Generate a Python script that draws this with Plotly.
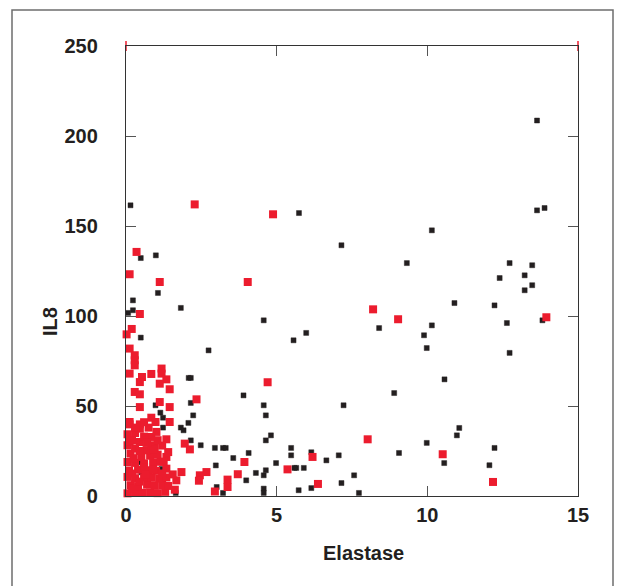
import plotly.graph_objects as go

# ---- data ----
black_x = [13.64, 13.64, 13.89, 10.15, 5.74, 7.15, 9.32, 12.73, 13.48, 13.23, 12.40, 13.48, 13.23,
           10.90, 12.23, 4.57, 13.82, 12.64, 10.15, 8.40, 5.98, 5.56, 9.89, 9.98, 12.73, 10.57,
           8.90, 11.06, 10.98, 9.98, 9.06, 10.56, 12.23, 12.06, 3.90, 4.57, 4.64, 7.22, 4.81, 4.64,
           2.95, 3.22, 3.31, 4.07, 3.56, 5.48, 5.48, 6.15, 4.98, 5.59, 5.65, 5.90, 6.65, 7.06, 2.98,
           4.64, 4.57, 4.31, 3.99, 7.15, 7.57, 6.15, 5.73, 4.57, 4.57, 3.22, 7.73, 3.01, 1.65,
           0.15, 0.49, 0.99, 1.06, 0.23, 1.82, 0.23, 0.07, 0.49, 2.74, 2.08, 2.15, 0.98, 2.15,
           2.23, 1.14, 1.23, 1.23, 1.82, 1.91, 2.07, 2.15, 2.48, 0.46, 1.18, 0.51]
black_y = [208.6, 158.7, 160.0, 147.6, 157.2, 139.3, 129.4, 129.4, 128.2, 122.6, 121.1, 117.1, 114.3,
           107.2, 105.9, 97.6, 97.6, 96.1, 94.8, 93.3, 90.6, 86.5, 89.3, 82.2, 79.5, 64.8,
           57.2, 37.8, 33.7, 29.5, 23.9, 18.3, 26.7, 17.1, 55.9, 50.4, 44.8, 50.4, 33.7, 30.9,
           26.7, 26.7, 26.7, 23.9, 21.1, 26.7, 22.6, 24.3, 18.3, 15.6, 15.6, 15.6, 19.8, 22.6, 17.0,
           14.3, 11.5, 12.8, 8.7, 7.2, 11.5, 4.4, 3.2, 4.1, 1.7, 1.7, 1.7, 5.0, 1.7,
           161.5, 132.2, 133.7, 112.8, 108.7, 104.5, 103.2, 101.7, 88.0, 80.9, 65.6, 65.6, 50.4, 51.7,
           44.8, 46.3, 43.5, 38.0, 38.0, 36.5, 40.6, 30.9, 28.2, 18.7, 15.0, 13.2]

red_x = [2.28, 0.35, 0.12, 1.12, 4.04, 4.88, 8.20, 9.03, 13.95, 0.46, 0.19, 0.02, 4.70, 8.02,
         10.51, 12.18, 3.93, 6.19, 5.36, 3.71, 3.37, 3.37, 6.37, 2.95, 2.67, 2.45, 2.42, 2.34,
         1.95, 2.12, 1.84, 1.67, 0.12, 0.29, 0.29, 0.29, 0.12, 0.53, 0.84, 1.18, 1.18, 1.34,
         1.12, 0.46, 1.45, 0.29, 0.46, 1.12, 0.46, 1.45, 0.84,
         0.05, 0.30, 0.55, 0.80, 1.05, 1.30,
         0.15, 0.40, 0.70, 0.95, 1.20, 1.40,
         0.05, 0.30, 0.60, 0.85, 1.10, 1.34,
         0.10, 0.40, 0.73, 1.00, 1.34,
         0.05, 0.30, 0.60, 0.90, 1.15,
         0.15, 0.51, 0.80, 1.05, 1.34,
         0.05, 0.30, 0.68, 0.95, 1.40,
         0.12, 0.46, 0.84, 0.05, 0.30, 0.84, 1.01, 1.34,
         0.12, 0.46, 0.12, 0.46, 0.98, 1.45, 1.62, 1.55,
         0.20, 0.45, 0.20, 0.60, 0.25, 0.45, 0.20, 0.60, 0.30, 0.75,
         0.65, 0.90, 1.20, 1.25, 0.90, 1.20, 0.70, 1.05, 0.60]
red_y = [162.0, 135.6, 123.2, 118.9, 118.9, 156.5, 103.7, 98.2, 99.3, 101.1, 92.8, 89.8, 63.2, 31.5,
         23.2, 7.8, 18.9, 21.7, 14.8, 12.1, 9.1, 5.0, 6.7, 2.5, 13.3, 11.5, 8.5, 53.7,
         29.1, 25.9, 13.3, 8.7, 81.9, 78.2, 75.4, 72.6, 68.0, 66.1, 67.8, 70.8, 68.0, 64.8,
         62.4, 63.3, 59.3, 57.8, 56.5, 52.2, 49.4, 49.4, 43.5,
         1.5, 2.2, 1.8, 2.0, 1.6, 2.3,
         6.0, 5.5, 6.3, 5.8, 6.1, 5.6,
         10.6, 9.9, 10.4, 10.1, 9.7, 10.3,
         14.2, 14.6, 14.3, 14.0, 15.2,
         18.9, 18.4, 18.1, 18.7, 19.0,
         23.6, 21.7, 22.4, 23.0, 21.7,
         28.2, 26.4, 25.4, 27.0, 24.4,
         30.5, 30.0, 32.8, 34.3, 35.0, 28.2, 35.6, 31.5,
         39.8, 37.4, 41.1, 39.8, 41.1, 41.1, 3.5, 12.0,
         4.0, 8.0, 12.5, 16.0, 21.0, 25.0, 31.0, 33.0, 38.0, 38.0,
         12.0, 14.5, 12.5, 19.0, 26.0, 28.0, 29.5, 31.0, 41.0]

corner_x = [0, 15]
corner_y = [250, 250]

x_ticks = [0, 5, 10, 15]
y_ticks = [0, 50, 100, 150, 200, 250]

RED = '#ec1c2e'
BLK = '#231f20'
FONT = 'Liberation Sans, Arial, sans-serif'

fig = go.Figure()
fig.add_trace(go.Scatter(x=black_x, y=black_y, mode='markers', cliponaxis=False,
                         marker=dict(symbol='square', size=5, color=BLK,
                                     line=dict(width=1, color='rgba(35,31,32,0.45)')),
                         showlegend=False, hoverinfo='skip'))
fig.add_trace(go.Scatter(x=red_x, y=red_y, mode='markers', cliponaxis=False,
                         marker=dict(symbol='square', size=8, color=RED, line=dict(width=0)),
                         showlegend=False, hoverinfo='skip'))
fig.add_trace(go.Scatter(x=corner_x, y=corner_y, mode='markers', cliponaxis=False,
                         marker=dict(symbol='line-ns', size=7, line=dict(width=1.5, color=RED)),
                         showlegend=False, hoverinfo='skip'))

axis_common = dict(showline=True, linecolor='#333333', linewidth=1.3, mirror='ticks',
                   ticks='inside', ticklen=10, tickwidth=1.3, tickcolor='#555555',
                   showgrid=False, zeroline=False,
                   tickfont=dict(family=FONT, size=20, color=BLK, weight='bold'))

fig.update_xaxes(range=[0, 15], tickvals=x_ticks, ticklabelstandoff=1, **axis_common)
fig.update_yaxes(range=[0, 250], tickvals=y_ticks, ticklabelstandoff=23, **axis_common)

W, H = 623, 586
L, R, T, B = 126, 45, 46, 90
pw, ph = W - L - R, H - T - B

def px(xp):
    return (xp - L) / pw

def py(yp):
    return (H - B - yp) / ph

fig.update_layout(
    width=W, height=H,
    margin=dict(l=L, r=R, t=T, b=B, pad=0),
    plot_bgcolor='white', paper_bgcolor='white',
    annotations=[
        dict(text='Elastase', xref='paper', yref='paper', x=px(363), y=py(553),
             showarrow=False, xanchor='center', yanchor='middle',
             font=dict(family=FONT, size=20, color=BLK, weight='bold')),
        dict(text='IL8', xref='paper', yref='paper', x=px(50), y=py(322),
             showarrow=False, xanchor='center', yanchor='middle', textangle=-90,
             font=dict(family=FONT, size=20, color=BLK, weight='bold')),
    ],
    shapes=[
        dict(type='rect', xref='paper', yref='paper', x0=px(12), x1=px(613), y0=py(600), y1=py(10),
             line=dict(color='#6d6d6d', width=1.5), fillcolor='rgba(0,0,0,0)', layer='below'),
    ],
)

fig.write_html('out.html', config={'displayModeBar': False},
               post_script="document.body.style.margin='0px';")
